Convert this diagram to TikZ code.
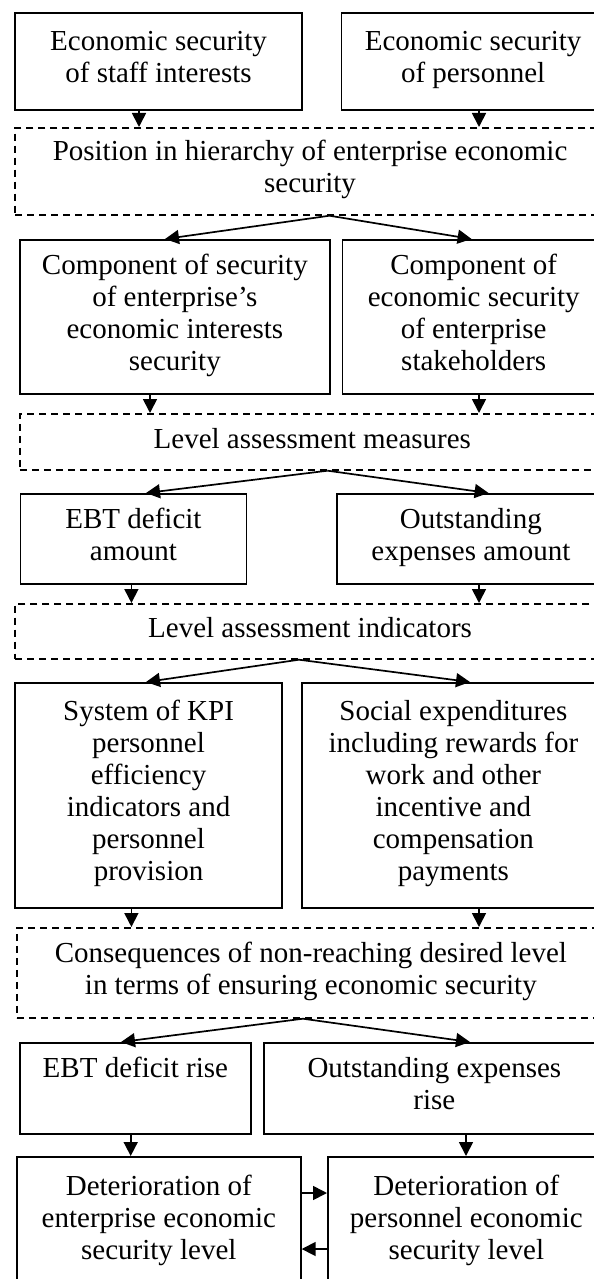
\documentclass[tikz,border=0pt]{standalone}
\usepackage{fontspec}
\setmainfont{Liberation Serif}
\usetikzlibrary{arrows.meta}

\begin{document}
\begin{tikzpicture}[x=1pt, y=-1pt,
    box/.style={draw, line width=1.7pt, rectangle, anchor=north west, align=center,
      inner sep=0pt, font=\fontsize{29}{32}\selectfont,
      execute at begin node=\strut, execute at end node=\strut},
    dbox/.style={box, dash pattern=on 7pt off 5pt},
    arr/.style={line width=1.7pt, -{Triangle[length=14pt,width=14pt]}}]
  \useasboundingbox (0,0) rectangle (594,1279);
  \clip (0,0) rectangle (594,1279);

  \node[box, minimum width=286.6, minimum height=96.5] (staff) at (14.4,12.5) {Economic security\\of staff interests};
  \node[box, minimum width=263.5, minimum height=96.5] (pers) at (340.5,12.5) {Economic security\\of personnel};
  \node[dbox, minimum width=589.6, minimum height=87] (hier) at (14.4,127) {Position in hierarchy of enterprise economic\\security};

  \node[box, minimum width=310, minimum height=154] (compint) at (19,239) {Component of security\\of enterprise’s\\economic interests\\security};
  \node[box, minimum width=262.3, minimum height=154] (compstake) at (341.7,239) {Component of\\economic security\\of enterprise\\stakeholders};
  \node[dbox, minimum width=585, minimum height=56] (measures) at (19,413) {Level assessment measures};

  \node[box, minimum width=225.8, minimum height=90] (ebt) at (19.7,493) {EBT deficit\\amount};
  \node[box, minimum width=268, minimum height=90] (outexp) at (336,493) {Outstanding\\expenses amount};
  \node[dbox, minimum width=589.6, minimum height=55] (indic) at (14.4,603) {Level assessment indicators};

  \node[box, minimum width=266.6, minimum height=225] (kpi) at (14.4,682) {System of KPI\\personnel\\efficiency\\indicators and\\personnel\\provision};
  \node[box, minimum width=303, minimum height=225] (social) at (301,682) {Social expenditures\\including rewards for\\work and other\\incentive and\\compensation\\payments};
  \node[dbox, minimum width=588, minimum height=90] (conseq) at (16,927) {Consequences of non-reaching desired level\\in terms of ensuring economic security};

  \node[box, minimum width=231, minimum height=91] (ebtrise) at (19,1042) {EBT deficit rise\\\mbox{}};
  \node[box, minimum width=341, minimum height=91] (outrise) at (263,1042) {Outstanding expenses\\rise};

  \node[box, minimum width=284, minimum height=130] (detent) at (16,1156) {Deterioration of\\enterprise economic\\security level};
  \node[box, minimum width=277, minimum height=130] (detpers) at (327,1156) {Deterioration of\\personnel economic\\security level};

  \draw[arr] (staff.south -| 139,0) -- (hier.north -| 139,0);
  \draw[arr] (pers.south -| 479,0) -- (hier.north -| 479,0);
  \draw[arr] (hier.south -| 329.5,0) -- (compint.north -| 165,0);
  \draw[arr] (hier.south -| 329.5,0) -- (compstake.north -| 471.6,0);
  \draw[arr] (compint.south -| 150,0) -- (measures.north -| 150,0);
  \draw[arr] (compstake.south -| 479,0) -- (measures.north -| 479,0);
  \draw[arr] (measures.south -| 327.6,0) -- (ebt.north -| 146,0);
  \draw[arr] (measures.south -| 327.6,0) -- (outexp.north -| 488.6,0);
  \draw[arr] (ebt.south -| 131.4,0) -- (indic.north -| 131.4,0);
  \draw[arr] (outexp.south -| 479,0) -- (indic.north -| 479,0);
  \draw[arr] (indic.south -| 299,0) -- (kpi.north -| 146,0);
  \draw[arr] (indic.south -| 299,0) -- (social.north -| 470,0);
  \draw[arr] (kpi.south -| 131.4,0) -- (conseq.north -| 131.4,0);
  \draw[arr] (social.south -| 479,0) -- (conseq.north -| 479,0);
  \draw[arr] (conseq.south -| 303,0) -- (ebtrise.north -| 121,0);
  \draw[arr] (conseq.south -| 303,0) -- (outrise.north -| 470,0);
  \draw[arr] (ebtrise.south -| 130.7,0) -- (detent.north -| 130.7,0);
  \draw[arr] (outrise.south -| 466,0) -- (detpers.north -| 466,0);
  \draw[arr] (detent.east |- 0,1193) -- (detpers.west |- 0,1193);
  \draw[arr] (detpers.west |- 0,1249) -- (detent.east |- 0,1249);
\end{tikzpicture}
\end{document}
